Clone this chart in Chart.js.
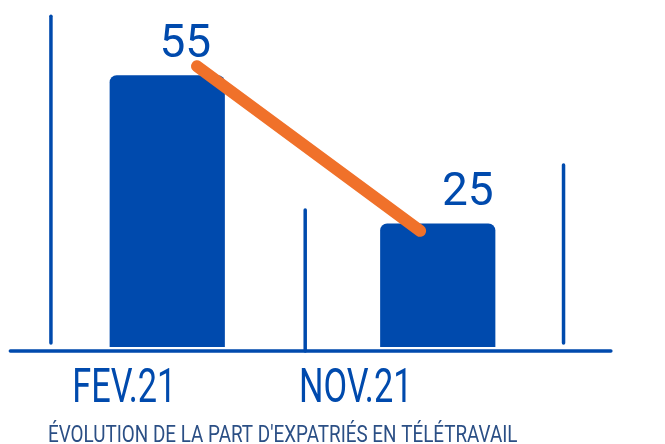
<!DOCTYPE html>
<html>
<head>
<meta charset="utf-8">
<script src="https://cdn.jsdelivr.net/npm/chart.js@4"></script>
<style>
    html, body { margin: 0; padding: 0; background: #ffffff; }
    #wrap { width: 665px; height: 444px; }
</style>
</head>
<body>
<div id="wrap"><canvas id="expatChart"></canvas></div>
<script>
// --- DATA ---
const months = ['FEV.21', 'NOV.21'];
const shares = [55, 25];
const trendX = [0.11, 0.935];
const trendY = [56.8, 23.5];
const dividerX = [-0.43, 0.51, 1.465];
const dividerTop = [66.9, 27.7, 36.8];
const dividerBottom = [0.8, -0.8, 0.8];
const baseX = [-0.58, 1.64];
const baseY = -0.8;
const chartTitle = "ÉVOLUTION DE LA PART D'EXPATRIÉS EN TÉLÉTRAVAIL";

const BLUE = '#004AAD';
const ORANGE = '#F0712A';

// decorative vertical strokes + baseline as line datasets on the hidden linear axis
const strokeSets = dividerX.map((x, i) => ({
    type: 'line',
    xAxisID: 'x2',
    data: [{ x: x, y: dividerBottom[i] }, { x: x, y: dividerTop[i] }],
    borderColor: BLUE,
    borderWidth: 3.5,
    borderCapStyle: 'round',
    pointRadius: 0,
    clip: false,
    order: 2
}));
strokeSets.push({
    type: 'line',
    xAxisID: 'x2',
    data: baseX.map(x => ({ x: x, y: baseY })),
    borderColor: BLUE,
    borderWidth: 3.5,
    borderCapStyle: 'round',
    pointRadius: 0,
    clip: false,
    order: 2
});

// text drawn by hand so it can be condensed like the original
const textPlugin = {
    id: 'texts',
    afterDatasetsDraw(chart) {
        const ctx = chart.ctx;
        const xs = chart.scales.x, ys = chart.scales.y;
        const valueShift = [18, 30];
        const labelShift = [-43, -82];
        ctx.save();
        ctx.fillStyle = BLUE;
        ctx.textAlign = 'center';
        ctx.textBaseline = 'alphabetic';
        ctx.font = '46px Roboto';
        shares.forEach((v, i) => {
            ctx.fillText(String(v), xs.getPixelForValue(i) + valueShift[i], ys.getPixelForValue(v) - 18);
        });

        const squeeze = 0.7;
        ctx.font = '49px Roboto';
        months.forEach((m, i) => {
            ctx.save();
            ctx.translate(xs.getPixelForValue(i) + labelShift[i], 402);
            ctx.scale(squeeze, 1);
            ctx.fillText(m, 0, 0);
            ctx.restore();
        });

        ctx.font = '23px Roboto';
        ctx.fillStyle = '#2B4F85';
        ctx.textAlign = 'left';
        ctx.translate(48, 442);
        ctx.scale(0.82, 1);
        ctx.fillText(chartTitle, 0, 0);
        ctx.restore();
    }
};

function initializeChart() {
    const ctx = document.getElementById('expatChart').getContext('2d');
    new Chart(ctx, {
        type: 'bar',
        data: {
            labels: months,
            datasets: [
                {
                    type: 'line',
                    xAxisID: 'x2',
                    data: trendX.map((x, i) => ({ x: x, y: trendY[i] })),
                    borderColor: ORANGE,
                    borderWidth: 12,
                    borderCapStyle: 'round',
                    pointRadius: 0,
                    clip: false,
                    order: 0
                },
                {
                    data: shares,
                    backgroundColor: BLUE,
                    borderRadius: { topLeft: 7, topRight: 7 },
                    borderSkipped: 'bottom',
                    grouped: false,
                    barPercentage: 1,
                    categoryPercentage: 0.426,
                    order: 1
                },
                ...strokeSets
            ]
        },
        options: {
            responsive: true,
            maintainAspectRatio: false,
            animation: false,
            layout: { padding: { left: 32, right: 92, top: 1, bottom: 97 } },
            scales: {
                x: { display: false, offset: true, grid: { display: false } },
                x2: { type: 'linear', display: false, offset: false, min: -0.5, max: 1.5 },
                y: { display: false, min: 0, max: 70 }
            },
            plugins: {
                legend: { display: false },
                tooltip: { enabled: false }
            }
        },
        plugins: [textPlugin]
    });
}

window.onload = () => {
    initializeChart();
};
</script>
</body>
</html>
